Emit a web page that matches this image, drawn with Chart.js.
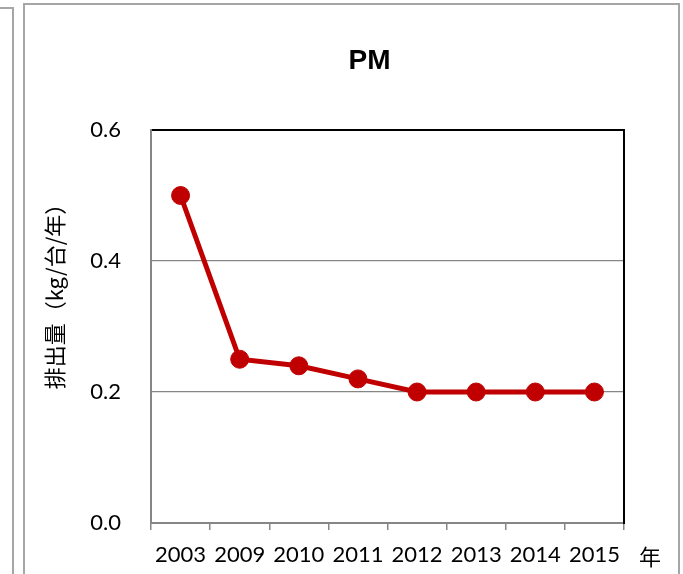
<!DOCTYPE html>
<html>
<head>
<meta charset="utf-8">
<script src="https://cdn.jsdelivr.net/npm/chart.js@4"></script>
<style>
  body { margin: 0; background: #fff; }
  #wrap { position: relative; width: 683px; height: 574px; overflow: hidden; }
  .prevFrame { position: absolute; left: 0; top: 7px; width: 12px; height: 700px;
    border-top: 2px solid #a6a6a6; border-right: 2px solid #a6a6a6; }
  .frame { position: absolute; left: 23px; top: 3px; width: 653px; height: 700px;
    border: 2px solid #a6a6a6; }
  canvas { position: absolute; left: 0; top: 0; }
</style>
</head>
<body>
<div id="wrap">
  <div class="prevFrame"></div>
  <div class="frame"></div>
  <canvas id="myChart" width="683" height="574"></canvas>
</div>
<script>
// data
const years = ['2003', '2009', '2010', '2011', '2012', '2013', '2014', '2015'];
const pmValues = [0.5, 0.25, 0.24, 0.22, 0.2, 0.2, 0.2, 0.2];
const yTicks = [0, 0.2, 0.4, 0.6];
const chartTitle = 'PM';
const yTitle = '排出量（kg/台/年）';
const xUnit = '年';

const axisGrey = '#868686';

// title, y title and unit label drawn as text
const textPlugin = {
  id: 'extraText',
  afterDraw(chart) {
    const ctx = chart.ctx;
    const area = chart.chartArea;
    ctx.save();
    ctx.fillStyle = '#000';
    ctx.textAlign = 'center';
    ctx.textBaseline = 'middle';

    ctx.font = 'bold 28px "Liberation Sans", Arial';
    ctx.fillText(chartTitle, (area.left + area.right) / 2 - 18, area.top - 69);

    ctx.font = '22px "Noto Sans CJK JP"';
    ctx.fillText(xUnit, area.right + 26, area.bottom + 34);

    ctx.translate(55, area.top + 161);
    ctx.rotate(-Math.PI / 2);
    ctx.font = '22px "Noto Sans CJK JP"';
    ctx.fillText(yTitle, 0, 0);
    ctx.restore();
  }
};

new Chart(document.getElementById('myChart'), {
  type: 'line',
  data: {
    labels: years,
    datasets: [{
      data: pmValues,
      borderColor: '#c00000',
      backgroundColor: '#c00000',
      borderWidth: 5,
      pointRadius: 9,
      pointBorderWidth: 1,
      pointBackgroundColor: '#c00000',
      pointBorderColor: '#c00000',
      tension: 0
    }]
  },
  options: {
    responsive: false,
    animation: false,
    devicePixelRatio: 1,
    layout: { padding: { left: 60, right: 59, top: 130, bottom: 0 } },
    plugins: {
      legend: { display: false },
      tooltip: { enabled: false },
      title: { display: false }
    },
    scales: {
      x: {
        offset: true,
        grid: {
          offset: true,
          drawOnChartArea: false,
          drawTicks: true,
          tickLength: 7,
          tickColor: axisGrey,
          lineWidth: 1.5
        },
        border: { color: axisGrey, width: 2 },
        ticks: {
          color: '#000',
          padding: 12,
          maxRotation: 0,
          autoSkip: false,
          font: { family: 'Lato', size: 22 }
        },
        afterFit(scale) { scale.height = 51; }
      },
      y: {
        min: 0,
        max: 0.6,
        afterBuildTicks(scale) { scale.ticks = yTicks.map(v => ({ value: v })); },
        grid: {
          drawTicks: false,
          color: c => (c.tick && c.tick.value === 0.6) ? '#000' : axisGrey,
          lineWidth: c => (c.tick && c.tick.value === 0.6) ? 2 : 1.3
        },
        border: { color: axisGrey, width: 2 },
        ticks: {
          color: '#000',
          padding: 30,
          font: { family: 'Lato', size: 22 },
          callback: v => Number(v).toFixed(1)
        },
        afterFit(scale) { scale.width = 91; }
      },
      y2: {
        position: 'right',
        grid: { drawOnChartArea: false, drawTicks: false },
        border: { color: '#000', width: 2 },
        ticks: { display: false },
        afterFit(scale) { scale.width = 0; }
      }
    }
  },
  plugins: [textPlugin]
});
</script>
</body>
</html>
